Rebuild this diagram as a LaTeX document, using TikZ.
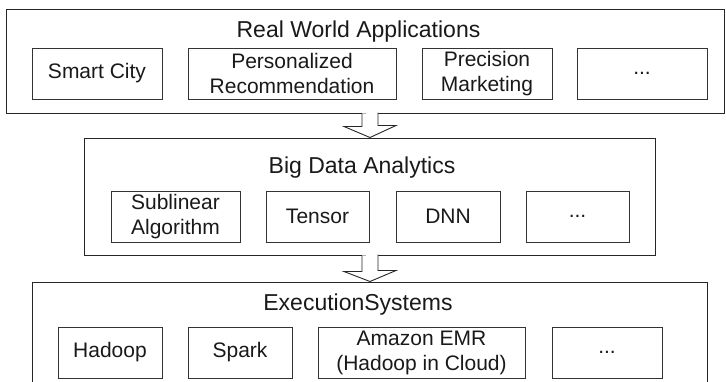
\documentclass[tikz,border=0pt]{standalone}
\usepackage{fontspec}
\setmainfont{Liberation Sans}
\begin{document}
\begin{tikzpicture}[x=1pt,y=-1pt,
  outer/.style={draw=black!85, line width=1pt, inner sep=0pt},
  inbox/.style={draw=black!80, line width=0.9pt, inner sep=0pt, minimum height=51pt,
    align=center, text=black!90, font=\fontsize{21}{25}\selectfont},
  ttl/.style={anchor=base, inner sep=0pt, text=black!90, font=\fontsize{23}{27}\selectfont},
  bigarrow/.style={draw=black!85, line width=0.9pt, fill=white, line join=miter}]
\useasboundingbox (0,0) rectangle (726,381);
\clip (0,0) rectangle (726,381);
% outer layers
\node[outer, minimum width=718pt, minimum height=104pt] (app) at (365,61) {};
\node[outer, minimum width=571pt, minimum height=117pt] (bda) at (369.5,196.5) {};
\node[outer, minimum width=675pt, minimum height=120pt] (exe) at (369.5,342) {};
% titles
\node[ttl] (tapp) at (358.5,37) {Real World Applications};
\node[ttl] (tbda) at (362,173) {Big Data Analytics};
\node[ttl] (texe) at (358,310) {ExecutionSystems};
% top row
\node[inbox, minimum width=130pt] (sc) at (97,73.5) {Smart City};
\node[inbox, minimum width=208pt] (pr) at (292,73.5) {Personalized\\Recommendation};
\node[inbox, minimum width=130pt] (pm) at (487,73.5) {Precision\\Marketing};
\node[inbox, minimum width=130pt] (d1) at (642,73.5) {...};
% middle row
\node[inbox, minimum width=129pt] (sa) at (175.5,216.5) {Sublinear\\Algorithm};
\node[inbox, minimum width=103pt] (te) at (317.5,216.5) {Tensor};
\node[inbox, minimum width=104pt] (dnn) at (448,216.5) {DNN};
\node[inbox, minimum width=103pt] (d2) at (577.5,216.5) {...};
% bottom row
\node[inbox, minimum width=104pt] (ha) at (110,352.5) {Hadoop};
\node[inbox, minimum width=104pt] (sp) at (240,352.5) {Spark};
\node[inbox, minimum width=207pt] (am) at (421.5,352.5) {Amazon EMR\\(Hadoop in Cloud)};
\node[inbox, minimum width=110pt] (d3) at (607,352.5) {...};
% block arrows
\coordinate (a1) at (app.south -| 370,0);
\coordinate (a2) at (bda.south -| 370,0);
\draw[bigarrow] (a1) ++(-8,0) -- ++(0,13) -- ++(-18,0) -- (a1 |- bda.north) -- ++(26,-12) -- ++(-18,0) -- ++(0,-13);
\draw[bigarrow] (a2) ++(-8,0) -- ++(0,16) -- ++(-18,0) -- (a2 |- exe.north) -- ++(26,-11) -- ++(-18,0) -- ++(0,-16);
\end{tikzpicture}
\end{document}
